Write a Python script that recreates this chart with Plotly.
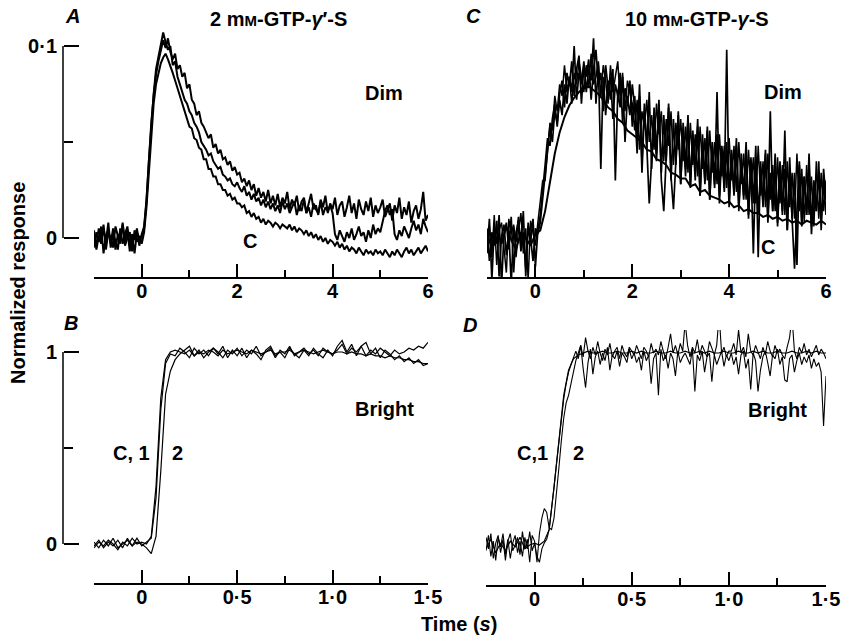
import numpy as np
import plotly.graph_objects as go

# ---------------- sampling grids (s) ----------------
dim_t0, dim_dt = -1.0, 0.05          # panels A, C (noisy traces)
dimc_dt = 0.1                        # panel C control trace
bri_t0, bri_dt = -0.25, 0.025        # panel B, panel D control
brid_dt = 0.0125                     # panel D noisy traces

# ---------------- Panel A: 2 mM GTP-γ-S, dim (units of 0.001) ----------------
a_trace1 = [2, -4, 5, -1, 7, -6, 3, 0, -5, 6, 1, -3, 8, -2, 4, -7, 2, -1, 5, -4, 2,
            6, 20, 42, 60, 74, 85, 92, 98, 103, 99, 104, 97, 93, 96, 88, 90, 84, 86, 78, 80,
            72, 70, 64, 66, 60, 58, 55, 52, 54, 47, 49, 44, 46, 41, 42, 38, 40, 35, 37, 33,
            34, 29, 31, 27, 30, 25, 28, 22, 26, 21, 24, 19, 25, 18, 22, 17, 23, 16, 21, 18,
            24, 15, 20, 17, 22, 14, 19, 21, 13, 18, 23, 15, 17, 12, 20, 16, 22, 13, 18, 15,
            21, 12, 17, 19, 11, 16, 22, 13, 18, 10, 20, 15, 12, 19, 14, 21, 11, 17, 13, 16,
            20, 11, 15, 18, 9, 17, 13, 21, 10, 16, 12, 19, 8, 14, 17, 10, 15, 24, 9, 12]
a_control = [-5, 3, -2, 6, -8, 1, 4, -3, 5, -6, 2, -1, 7, -4, 0, 3, -7, 4, -2, 1, -3,
             3, 16, 36, 55, 70, 80, 86, 91, 94, 96, 93, 90, 86, 82, 78, 73, 70, 66, 62, 58,
             57, 52, 51, 47, 46, 41, 41, 36, 36, 32, 32, 28, 28, 25, 25, 22, 23, 20, 21, 18,
             18, 16, 17, 13, 14, 11, 13, 10, 11, 8, 10, 7, 9, 8, 6, 8, 7, 5, 7, 6,
             5, 7, 4, 6, 3, 5, 4, 2, 4, 1, 3, 0, 2, -1, 1, -2, 0, -3, -1, -2,
             -4, -2, -5, -3, -6, -4, -7, -5, -6, -8, -5, -7, -9, -6, -8, -7, -9, -6, -8, -7,
             -9, -6, -8, -10, -7, -9, -6, -8, -10, -7, -5, -8, -6, -9, -7, -5, -8, -6, -4, -7]
a_trace2 = [4, -6, 1, -3, 5, -2, 8, -5, 3, -1, -6, 5, -3, 2, 6, -4, 1, -8, 3, 0, 1,
            5, 19, 40, 58, 75, 88, 95, 101, 107, 102, 98, 100, 90, 92, 84, 80, 76, 72, 70, 66,
            64, 60, 58, 55, 50, 48, 46, 43, 44, 40, 38, 36, 37, 33, 32, 30, 31, 28, 27, 29,
            26, 24, 27, 22, 24, 20, 23, 19, 21, 17, 20, 16, 19, 15, 18, 14, 17, 13, 19, 15,
            18, 13, 16, 19, 12, 17, 14, 20, 13, 16, 11, 18, 15, 13, 19, 12, 16, 14, 17, 13,
            2, -1, 4, 1, -2, 3, 0, 5, -1, 2, 6, 1, 3, -2, 4, 0, 7, 2, 5, 3,
            8, 14, 17, 12, 15, 2, -1, 4, 1, 6, 3, 0, 5, 9, 4, 7, 2, 10, 6, 3]

# ---------------- Panel C: 10 mM GTP-γ-S, dim (units of 0.001) ----------------
c_control = [2, -5, 4, -3, 6, -1, -6, 3, 0, -4, 2,
             4, 14, 30, 44, 55, 63, 69, 73, 76, 78,
             79, 77, 75, 72, 68, 66, 62, 60, 56, 54,
             52, 50, 46, 45, 41, 40, 38, 34, 33, 31,
             31, 27, 28, 24, 25, 22, 21, 20, 18, 19,
             16, 17, 14, 15, 13, 13, 11, 12, 10, 11,
             9, 10, 8, 9, 7, 9, 8, 7, 9, 7]
c_trace1 = [-8, 10, -22, 5, -3, 12, -25, 2, 8, -6, 11, -18, 3, 9, -4, 14, -20, 6, -2, 10, -15,
            4, 12, 24, 38, 52, 48, 62, 70, 58, 75, 82, 68, 86, 79, 92, 74, 88, 95, 70, 90,
            84, 93, 72, 88, 98, 80, 86, 66, 90, 78, 84, 62, 80, 74, 86, 60, 78, 70, 82, 58,
            74, 50, 80, 40, 70, 46, 76, 36, 68, 44, 72, 34, 64, 40, 70, 30, 62, 38, 66, 28,
            60, 36, 64, 26, 56, 34, 62, 22, 54, 30, 58, 20, 50, 28, 76, 22, 48, 26, 98, 18,
            46, 24, 52, 16, 44, 22, 50, 12, 42, 18, 48, -10, 40, 16, 46, 10, 66, 14, 44, 8,
            40, 14, 36, 4, 42, 10, 34, -14, 38, 8, 32, 12, 44, 6, 30, 14, 40, 4, 36, 20]
c_trace2 = [5, -12, 3, -4, 9, -20, 1, 7, -9, 4, -24, 6, -2, 11, -7, 3, -16, 8, 0, -12, 5,
            2, 8, 20, 34, 44, 58, 50, 66, 60, 72, 64, 80, 70, 84, 76, 100, 72, 86, 80, 92,
            76, 88, 82, 104, 70, 90, 36, 84, 64, 82, 72, 88, 30, 76, 68, 84, 50, 74, 64, 80,
            68, 44, 74, 34, 66, 48, 18, 38, 64, 40, 70, 30, 14, 42, 68, 32, 15, 40, 64, 28,
            56, 32, 62, 28, 54, 30, 58, 22, 50, 28, 56, 20, 48, 26, 54, 18, 46, 24, 50, 16,
            44, 22, 48, 14, 40, 20, 46, 10, 38, -8, 42, 12, 36, 18, 44, 8, 34, 14, 40, 6,
            36, 12, 56, 4, 34, 10, -16, 14, 40, 6, 32, 12, 38, 2, 28, 14, 34, 8, 30, 12]
c_trace3 = [0, 6, -10, 12, -14, 4, 8, -6, -18, 10, 2, 7, -10, 4, 13, -8, 5, -22, 9, 3, -4,
            8, 18, 30, 30, 46, 60, 56, 74, 66, 80, 74, 90, 76, 84, 70, 86, 80, 92, 84, 76,
            90, 78, 96, 80, 84, 92, 74, 90, 82, 70, 90, 76, 84, 92, 72, 86, 66, 82, 76, 70,
            56, 72, 46, 66, 58, 72, 50, 64, 46, 70, 54, 66, 40, 62, 48, 66, 38, 60, 46, 62,
            40, 58, 34, 60, 38, 54, 32, 58, 36, 52, 30, 56, 34, 50, 28, 54, 32, 48, 26, 52,
            30, 48, 24, 50, 28, 44, 20, 46, 26, 42, 18, 48, 22, 40, 16, 44, 20, 38, 14, 42,
            18, 38, 12, 40, 16, 34, 10, 44, 14, 36, 8, 38, 12, 32, 6, 40, 10, 34, 14, 30]

# ---------------- Panel B: 2 mM, bright (units of 0.01) ----------------
b_control = [-2, 1, -1, 2, 0, -3, 1, -1, 3, 0, 1,
             0, 4, 30, 76, 96, 100, 101, 100,
             99, 101, 98, 100, 99, 101, 100, 98, 101, 99, 100, 101,
             100, 99, 101, 100, 99, 100, 101, 99, 100, 100, 101, 99, 100, 101, 100, 99, 100, 101, 100, 99,
             100, 100, 99, 100, 99, 99, 98, 99, 98, 98, 97, 98, 97, 97, 96, 96, 95, 95, 94, 94]
b_trace1 = [1, -2, 2, -1, 3, -2, 0, 2, -1, 3, -1,
            1, 3, 24, 70, 94, 99, 98, 102,
            100, 97, 102, 99, 101, 98, 102, 100, 97, 101, 99, 102,
            98, 101, 99, 103, 98, 100, 102, 97, 101, 99, 103, 98, 100, 102, 99, 101, 98, 102, 100, 99,
            101, 104, 99, 102, 100, 103, 98, 101, 99, 102, 100, 98, 101, 99, 100, 102, 101, 103, 102, 105]
b_trace2 = [-1, 2, -2, 1, -1, 2, -2, 3, -1, 1, 0,
            -2, -5, 4, 38, 78, 90, 96, 99,
            101, 103, 98, 101, 97, 100, 102, 99, 103, 97, 101, 98,
            102, 97, 101, 99, 96, 101, 103, 98, 100, 97, 102, 99, 97, 101, 98, 102, 99, 97, 101, 98,
            103, 106, 100, 104, 98, 103, 105, 99, 102, 97, 101, 99, 96, 98, 95, 97, 94, 96, 93, 94]

# ---------------- Panel D: 10 mM, bright (units of 0.01) ----------------
d_control = [-2, 3, -4, 1, -3, 2, -1, 4, -2, 0, 1,
             0, 2, 8, 30, 56, 78, 91, 97, 99, 100,
             101, 100, 100, 101, 100, 100, 101, 100, 100, 101,
             100, 101, 100, 100, 101, 100, 100, 101, 100, 100,
             101, 100, 100, 101, 100, 101, 100, 100, 101, 100,
             100, 101, 100, 100, 101, 100, 101, 100, 100, 101,
             100, 100, 101, 100, 100, 101, 100, 101, 100, 100]
d_trace1 = [-3, 5, -6, 2, -8, 4, -1, 6, -5, 3, -7, 1, 5, -4, 2, -6, 4, -2, 7, -3, 1,
            -6, -9, -2, 1, 3, 8, 18, 30,
            42, 54, 65, 76, 84, 90, 94, 97,
            101, 97, 104, 92, 82, 95, 102, 89, 98, 101, 94, 100, 96, 103, 91, 99, 97, 101, 93, 100, 98, 95, 102, 97,
            100, 95, 98, 91, 101, 96, 99, 84, 97, 100,
            78, 102, 96, 99, 92, 100, 97, 88, 101, 95,
            98, 100, 97, 94, 102, 80, 99, 96, 101, 90,
            98, 100, 85, 99, 94, 97, 101, 93, 99, 96,
            100, 94, 98, 89, 99, 101, 92, 97, 81, 100,
            96, 80, 91, 98, 101, 95, 88, 99, 97, 102,
            94, 98, 86, 85, 97, 99, 90, 96, 100, 94,
            98, 95, 99, 92, 97, 93, 95, 90, 62, 88]
d_trace2 = [4, -2, 6, -7, 1, 5, -4, 3, -8, 2, 6, -3, 0, 4, -5, 7, -2, 3, -9, 5, 2,
            -9, 6, 14, 19, 17, 9, 8, 14,
            26, 40, 54, 66, 74, 78, 84, 90,
            96, 100, 104, 98, 108, 101, 97, 103, 99, 106, 100, 96, 102, 99, 105, 98, 101, 103, 97, 104, 100, 98, 103, 101,
            99, 104, 100, 97, 103, 101, 98, 105, 100, 102,
            99, 106, 101, 97, 103, 110, 100, 104, 99, 105,
            101, 116, 104, 98, 103, 100, 107, 99, 104, 101,
            98, 106, 102, 99, 104, 120, 100, 103, 98, 101,
            101, 105, 99, 112, 100, 103, 98, 110, 101, 99,
            104, 100, 97, 103, 99, 106, 101, 98, 104, 100,
            102, 99, 97, 103, 108, 119, 101, 97, 103, 100,
            105, 99, 102, 98, 101, 104, 99, 102, 100, 97]

# ---------------- tick labels ----------------
dim_tickvals, dim_ticktext = [0, 2, 4, 6], ["0", "2", "4", "6"]
dim_minor = [-1, 1, 3, 5]
bri_tickvals, bri_ticktext = [0, 0.5, 1.0, 1.5], ["0", "0·5", "1·0", "1·5"]
bri_minor = [-0.25, 0.25, 0.75, 1.25]


def grid(t0, dt, n):
    return t0 + dt * np.arange(n)


W, H = 842, 636
FONT = "Liberation Sans"


def px(x):
    return x / W


def py(y):
    return 1 - y / H


fig = go.Figure()


def add(t0, dt, vals, scale, xa, ya, width):
    v = np.array(vals, dtype=float) * scale
    fig.add_trace(go.Scatter(x=grid(t0, dt, len(v)), y=v, mode="lines",
                             line=dict(color="black", width=width),
                             xaxis=xa, yaxis=ya, showlegend=False, hoverinfo="skip"))


# Panel A
add(dim_t0, dim_dt, a_trace1, 1e-3, "x", "y", 2.0)
add(dim_t0, dim_dt, a_trace2, 1e-3, "x", "y", 2.0)
add(dim_t0, dim_dt, a_control, 1e-3, "x", "y", 2.0)
# Panel C
add(dim_t0, dim_dt, c_trace1, 1e-3, "x2", "y2", 1.7)
add(dim_t0, dim_dt, c_trace2, 1e-3, "x2", "y2", 1.7)
add(dim_t0, dim_dt, c_trace3, 1e-3, "x2", "y2", 1.5)
add(dim_t0, dimc_dt, c_control, 1e-3, "x2", "y2", 2.0)
# Panel B
add(bri_t0, bri_dt, b_control, 1e-2, "x3", "y3", 1.2)
add(bri_t0, bri_dt, b_trace1, 1e-2, "x3", "y3", 1.2)
add(bri_t0, bri_dt, b_trace2, 1e-2, "x3", "y3", 1.2)
# Panel D
add(bri_t0, bri_dt, d_control, 1e-2, "x4", "y4", 1.2)
add(bri_t0, brid_dt, d_trace1, 1e-2, "x4", "y4", 1.1)
add(bri_t0, brid_dt, d_trace2, 1e-2, "x4", "y4", 1.1)

tickfont = dict(family=FONT, size=20, color="black", weight="bold")


def xaxis(dom, rng, tv, tt, minor, anchor):
    return dict(domain=dom, range=rng, anchor=anchor, automargin=False,
                showgrid=False, zeroline=False,
                showline=True, linecolor="black", linewidth=1.5,
                ticks="inside", ticklen=13, tickwidth=1.5, tickcolor="black",
                tickmode="array", tickvals=tv, ticktext=tt, tickfont=tickfont,
                ticklabelstandoff=-5,
                minor=dict(tickmode="array", tickvals=minor, ticks="inside", ticklen=7,
                           tickwidth=1.5, tickcolor="black"))


def yaxis_shown(dom, rng, tv, tt, minor):
    return dict(domain=dom, range=rng, anchor="free", position=px(63), automargin=False,
                showgrid=False, zeroline=False, showline=False, ticks="inside", ticklen=15,
                tickwidth=1.5, tickcolor="black", tickmode="array", tickvals=tv, ticktext=tt,
                tickfont=tickfont, ticklabelstandoff=6,
                minor=dict(tickmode="array", tickvals=minor, ticks="inside", ticklen=9,
                           tickwidth=1.5, tickcolor="black"))


def yaxis_hidden(dom, rng, anchor):
    return dict(domain=dom, range=rng, anchor=anchor, visible=False, automargin=False,
                showgrid=False, zeroline=False)


dimA_rng = [(238 - 277) / 1920, (238 - 30) / 1920]
briB_rng = [(544 - 583) / 192, (544 - 330) / 192]
briD_rng = [(545 - 585) / 192, (545 - 330) / 192]

fig.update_layout(
    width=W, height=H, margin=dict(l=0, r=0, t=0, b=0, autoexpand=False),
    paper_bgcolor="white", plot_bgcolor="white", showlegend=False,
    xaxis=xaxis([px(94), px(428)], [-1, 6], dim_tickvals, dim_ticktext, dim_minor, "y"),
    yaxis=yaxis_shown([py(277), py(30)], dimA_rng, [0, 0.1], ["0", "0·1"], [0.05]),
    xaxis2=xaxis([px(487), px(826)], [-1, 6], dim_tickvals, dim_ticktext, dim_minor, "y2"),
    yaxis2=yaxis_hidden([py(277), py(30)], dimA_rng, "x2"),
    xaxis3=xaxis([px(94), px(428)], [-0.25, 1.5], bri_tickvals, bri_ticktext, bri_minor, "y3"),
    yaxis3=yaxis_shown([py(583), py(330)], briB_rng, [0, 1], ["0", "1"], [0.5]),
    xaxis4=xaxis([px(486), px(826)], [-0.25, 1.5], bri_tickvals, bri_ticktext, bri_minor, "y4"),
    yaxis4=yaxis_hidden([py(585), py(330)], briD_rng, "x4"),
)

# y-axis bracket lines (0 to 0.1, 0 to 1)
fig.add_shape(type="line", xref="paper", yref="y", x0=px(63), x1=px(63), y0=0, y1=0.1,
              line=dict(color="black", width=1.5))
fig.add_shape(type="line", xref="paper", yref="y3", x0=px(63), x1=px(63), y0=0, y1=1,
              line=dict(color="black", width=1.5))


def note(text, x, y, size=20, angle=0):
    fig.add_annotation(text=text, x=px(x), y=py(y), xref="paper", yref="paper",
                       showarrow=False, xanchor="center", yanchor="middle", textangle=angle,
                       font=dict(family=FONT, size=size, color="black", weight="bold"))


note("<i>A</i>", 72, 16)
note("2 m<span style='font-size:15px'>M</span>-GTP-<i>γ</i>′-S", 278, 19, 20)
note("<i>C</i>", 473, 16)
note("10 m<span style='font-size:15px'>M</span>-GTP-<i>γ</i>-S", 697, 19, 20)
note("Dim", 384, 93)
note("C", 250, 241)
note("Dim", 783, 92)
note("C", 768, 247)
note("<i>B</i>", 71, 323)
note("Bright", 384, 409)
note("C, 1", 131, 453)
note("2", 177, 453)
note("<i>D</i>", 470, 325)
note("Bright", 777, 410)
note("C,1", 532, 453)
note("2", 578, 453)
note("Normalized response", 18, 283, 20, -90)
note("Time (<i>s</i>)", 459, 624)

fig.write_html("out.html")
